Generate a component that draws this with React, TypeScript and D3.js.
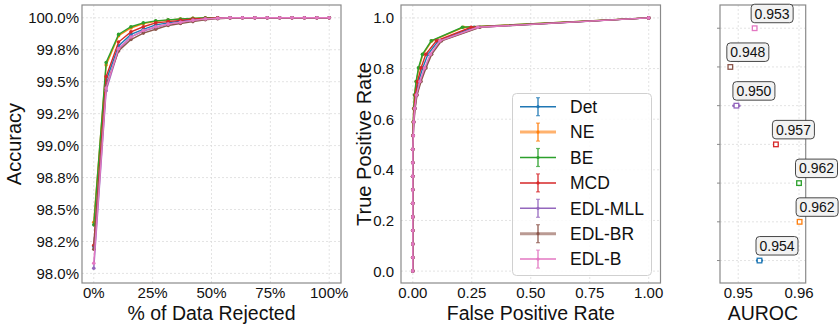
import React, { useEffect, useRef } from "react";
import * as d3 from "d3";

const methods = ["Det", "NE", "BE", "MCD", "EDL-MLL", "EDL-BR", "EDL-B"];
const colors = ["#1f77b4", "#ff7f0e", "#2ca02c", "#d62728", "#9467bd", "#8c564b", "#e377c2"];

// accuracy vs % of data rejected
const rejected = [0, 5.26, 10.53, 15.79, 21.05, 26.32, 31.58, 36.84, 42.11, 47.37, 52.63, 57.89, 63.16, 68.42, 73.68, 78.95, 84.21, 89.47, 94.74, 100];
const accDet = [98.21, 99.51, 99.78, 99.87, 99.91, 99.945, 99.96, 99.975, 99.985, 99.993, 99.997, 100, 100, 100, 100, 100, 100, 100, 100, 100];
const accNE = [98.4, 99.63, 99.86, 99.92, 99.955, 99.972, 99.982, 99.99, 99.995, 99.998, 100, 100, 100, 100, 100, 100, 100, 100, 100, 100];
const accBE = [98.38, 99.65, 99.87, 99.93, 99.96, 99.976, 99.984, 99.99, 99.995, 100, 100, 100, 100, 100, 100, 100, 100, 100, 100, 100];
const accMCD = [98.22, 99.54, 99.81, 99.89, 99.93, 99.96, 99.97, 99.98, 99.99, 99.995, 100, 100, 100, 100, 100, 100, 100, 100, 100, 100];
const accMLL = [98.04, 99.43, 99.75, 99.85, 99.895, 99.925, 99.95, 99.965, 99.98, 99.99, 99.995, 100, 100, 100, 100, 100, 100, 100, 100, 100];
const accBR = [98.19, 99.47, 99.74, 99.83, 99.88, 99.91, 99.94, 99.955, 99.97, 99.985, 99.993, 99.998, 100, 100, 100, 100, 100, 100, 100, 100];
const accB = [98.08, 99.45, 99.76, 99.85, 99.9, 99.93, 99.95, 99.965, 99.98, 99.99, 99.996, 100, 100, 100, 100, 100, 100, 100, 100, 100];
const accTicks = [98.0, 98.25, 98.5, 98.75, 99.0, 99.25, 99.5, 99.75, 100.0];
const accTickLabels = ["98.0%", "98.2%", "98.5%", "98.8%", "99.0%", "99.2%", "99.5%", "99.8%", "100.0%"];
const rejTicks = [0, 25, 50, 75, 100];
const rejTickLabels = ["0%", "25%", "50%", "75%", "100%"];

// ROC
const tpr = [0, 0.0535, 0.107, 0.1605, 0.214, 0.2675, 0.321, 0.3745, 0.428, 0.4815, 0.535, 0.5885, 0.642, 0.6955, 0.749, 0.8025, 0.856, 0.9095, 0.963, 1.0];
const fprDet = [0, 0, 0, 0, 0, 0, 0, 0, 0, 0, 0.001, 0.003, 0.007, 0.013, 0.024, 0.042, 0.064, 0.108, 0.26, 1];
const fprNE = [0, 0, 0, 0, 0, 0, 0, 0, 0, 0, 0.001, 0.002, 0.004, 0.008, 0.015, 0.026, 0.043, 0.081, 0.215, 1];
const fprBE = [0, 0, 0, 0, 0, 0, 0, 0, 0, 0, 0.001, 0.002, 0.004, 0.007, 0.014, 0.024, 0.041, 0.078, 0.21, 1];
const fprMCD = [0, 0, 0, 0, 0, 0, 0, 0, 0, 0, 0.001, 0.003, 0.006, 0.011, 0.02, 0.035, 0.055, 0.1, 0.247, 1];
const fprMLL = [0, 0, 0, 0, 0, 0, 0, 0, 0, 0, 0.002, 0.004, 0.009, 0.017, 0.032, 0.053, 0.077, 0.118, 0.28, 1];
const fprBR = [0, 0, 0, 0, 0, 0, 0, 0, 0, 0, 0.002, 0.005, 0.01, 0.018, 0.035, 0.056, 0.08, 0.122, 0.285, 1];
const fprB = [0, 0, 0, 0, 0, 0, 0, 0, 0, 0, 0.002, 0.004, 0.008, 0.015, 0.03, 0.05, 0.074, 0.115, 0.275, 1];
const rateTicksX = [0, 0.25, 0.5, 0.75, 1.0];
const rateTicksY = [0, 0.2, 0.4, 0.6, 0.8, 1.0];

// AUROC
const aurocMean = [0.9535, 0.9601, 0.96, 0.9562, 0.9497, 0.9487, 0.9527];
const aurocStd = [0.0004, 0.0001, 0.0001, 0.0002, 0.0005, 0.0002, 0.0001];
const aurocLabels = ["0.954", "0.962", "0.962", "0.957", "0.950", "0.948", "0.953"];
const aurocTicks = [0.95, 0.96];

const accSeries = [accDet, accNE, accBE, accMCD, accMLL, accBR, accB];
const fprSeries = [fprDet, fprNE, fprBE, fprMCD, fprMLL, fprBR, fprB];

const FONT = "'Liberation Sans', Arial, Helvetica, sans-serif";
const TOP = 5;
const BOTTOM = 283;

function frame(g, x, y, xTicks, xLabels, yTicks, yLabels, yLabelX) {
  const [x0, x1] = x.range();
  // grid
  g.selectAll(null)
    .data(xTicks)
    .enter()
    .append("line")
    .attr("x1", (d) => x(d))
    .attr("x2", (d) => x(d))
    .attr("y1", TOP)
    .attr("y2", BOTTOM)
    .attr("stroke", "#dcdcdc")
    .attr("stroke-width", 0.8)
    .attr("stroke-dasharray", "2,2");
  g.selectAll(null)
    .data(yTicks)
    .enter()
    .append("line")
    .attr("x1", x0)
    .attr("x2", x1)
    .attr("y1", (d) => y(d))
    .attr("y2", (d) => y(d))
    .attr("stroke", "#dcdcdc")
    .attr("stroke-width", 0.8)
    .attr("stroke-dasharray", "2,2");

  g.selectAll(null)
    .data(xTicks)
    .enter()
    .append("text")
    .attr("x", (d) => x(d))
    .attr("y", 297.5)
    .attr("text-anchor", "middle")
    .style("font-size", "15px")
    .text((d, i) => xLabels[i]);

  if (yLabels) {
    g.selectAll(null)
      .data(yTicks)
      .enter()
      .append("text")
      .attr("x", yLabelX)
      .attr("y", (d) => y(d))
      .attr("dy", "0.36em")
      .attr("text-anchor", "end")
      .style("font-size", "15px")
      .text((d, i) => yLabels[i]);
  }
}

function border(g, x) {
  const [x0, x1] = x.range();
  g.append("rect")
    .attr("x", x0)
    .attr("y", TOP)
    .attr("width", x1 - x0)
    .attr("height", BOTTOM - TOP)
    .attr("fill", "none")
    .attr("stroke", "#8a8a8a")
    .attr("stroke-width", 1.2);
}

function curves(g, xs, ys, x, y) {
  methods.forEach((m, i) => {
    const pts = xs[i].map((v, j) => [v, ys[i][j]]);
    const line = d3
      .line()
      .x((d) => x(d[0]))
      .y((d) => y(d[1]));
    g.append("path")
      .datum(pts)
      .attr("d", line)
      .attr("fill", "none")
      .attr("stroke", colors[i])
      .attr("stroke-width", 1.4);
    g.selectAll(null)
      .data(pts)
      .enter()
      .append("circle")
      .attr("cx", (d) => x(d[0]))
      .attr("cy", (d) => y(d[1]))
      .attr("r", 1.8)
      .attr("fill", colors[i]);
  });
}

function title(g, text, cx, cy, rotate) {
  const t = g
    .append("text")
    .attr("text-anchor", "middle")
    .style("font-size", rotate ? "20px" : "19.5px")
    .text(text);
  if (rotate) {
    t.attr("transform", `translate(${cx},${cy}) rotate(-90)`);
  } else {
    t.attr("x", cx).attr("y", cy);
  }
}

const App = () => {
  const ref = useRef(null);

  useEffect(() => {
    const svg = d3.select(ref.current);
    svg.selectAll("*").remove();
    const root = svg.append("g").style("font-family", FONT).attr("fill", "#111");

    // ---- accuracy panel
    const xA = d3.scaleLinear().domain([-5, 105]).range([82, 341]);
    const yA = d3.scaleLinear().domain([97.925, 100.1]).range([BOTTOM, TOP]);
    const gA = root.append("g");
    frame(gA, xA, yA, rejTicks, rejTickLabels, accTicks, accTickLabels, 79);
    curves(gA, methods.map(() => rejected), accSeries, xA, yA);
    border(gA, xA);
    title(gA, "% of Data Rejected", (82 + 341) / 2, 319.5, false);
    title(gA, "Accuracy", 21, 144, true);

    // ---- ROC panel
    const xR = d3.scaleLinear().domain([-0.05, 1.05]).range([401, 660.5]);
    const yR = d3.scaleLinear().domain([-0.047, 1.051]).range([BOTTOM, TOP]);
    const gR = root.append("g");
    frame(
      gR,
      xR,
      yR,
      rateTicksX,
      rateTicksX.map((d) => d3.format(".2f")(d)),
      rateTicksY,
      rateTicksY.map((d) => d3.format(".1f")(d)),
      394
    );
    curves(gR, fprSeries, methods.map(() => tpr), xR, yR);
    border(gR, xR);
    title(gR, "False Positive Rate", (401 + 660.5) / 2, 319.5, false);
    title(gR, "True Positive Rate", 371, 144, true);

    // legend
    const lg = gR.append("g");
    lg.append("rect")
      .attr("x", 512.5)
      .attr("y", 93.5)
      .attr("width", 139)
      .attr("height", 182)
      .attr("rx", 4)
      .attr("fill", "white")
      .attr("fill-opacity", 0.85)
      .attr("stroke", "#d0d0d0");
    methods.forEach((m, i) => {
      const cy = 106.7 + i * 25.4;
      const thick = m === "NE" || m === "EDL-BR";
      lg.append("line")
        .attr("x1", 520)
        .attr("x2", 556)
        .attr("y1", cy)
        .attr("y2", cy)
        .attr("stroke", colors[i])
        .attr("stroke-opacity", thick ? 0.6 : 1)
        .attr("stroke-width", thick ? 3 : 1.5);
      lg.append("line")
        .attr("x1", 538)
        .attr("x2", 538)
        .attr("y1", cy - 9)
        .attr("y2", cy + 9)
        .attr("stroke", colors[i])
        .attr("stroke-opacity", 0.7)
        .attr("stroke-width", 1.8);
      [cy - 9, cy + 9].forEach((yy) =>
        lg.append("line")
          .attr("x1", 536)
          .attr("x2", 540)
          .attr("y1", yy)
          .attr("y2", yy)
          .attr("stroke", colors[i])
          .attr("stroke-opacity", 0.7)
          .attr("stroke-width", 1.2)
      );
      lg.append("circle").attr("cx", 538).attr("cy", cy).attr("r", 1.6).attr("fill", colors[i]);
      lg.append("text")
        .attr("x", 570)
        .attr("y", cy)
        .attr("dy", "0.36em")
        .style("font-size", "17.5px")
        .text(m);
    });

    // ---- AUROC panel
    const xU = d3.scaleLinear().domain([0.947, 0.9611]).range([720, 805.7]);
    const yU = d3.scaleLinear().domain([-0.58, 6.6]).range([BOTTOM, TOP]);
    const rows = methods.map((m, i) => i);
    const gU = root.append("g");
    frame(gU, xU, yU, aurocTicks, aurocTicks.map((d) => d3.format(".2f")(d)), rows, null, 0);
    gU.selectAll(null)
      .data(rows)
      .enter()
      .append("line")
      .attr("x1", 717)
      .attr("x2", 720)
      .attr("y1", (d) => yU(d))
      .attr("y2", (d) => yU(d))
      .attr("stroke", "#8a8a8a");
    border(gU, xU);
    title(gU, "AUROC", (720 + 805.7) / 2, 319.5, false);

    methods.forEach((m, i) => {
      const cx = xU(aurocMean[i]);
      const cy = yU(i);
      gU.append("line")
        .attr("x1", xU(aurocMean[i] - aurocStd[i]))
        .attr("x2", xU(aurocMean[i] + aurocStd[i]))
        .attr("y1", cy)
        .attr("y2", cy)
        .attr("stroke", colors[i])
        .attr("stroke-width", 2.5)
        .attr("stroke-linecap", "round");
      gU.append("rect")
        .attr("x", cx - 2.3)
        .attr("y", cy - 2.3)
        .attr("width", 4.6)
        .attr("height", 4.6)
        .attr("fill", "white")
        .attr("stroke", colors[i])
        .attr("stroke-width", 1.3);
      gU.append("rect")
        .attr("x", cx - 3.5)
        .attr("y", cy - 24)
        .attr("width", 42)
        .attr("height", 18.5)
        .attr("rx", 3.5)
        .attr("fill", "#f2f2f2")
        .attr("stroke", "#333")
        .attr("stroke-width", 0.9);
      gU.append("text")
        .attr("x", cx + 17.5)
        .attr("y", cy - 9.7)
        .attr("text-anchor", "middle")
        .style("font-size", "14px")
        .text(aurocLabels[i]);
    });

    return () => {
      d3.select(ref.current).selectAll("*").remove();
    };
  }, []);

  return (
    <svg
      ref={ref}
      width={839}
      height={328}
      style={{ position: "absolute", left: 0, top: 0, background: "white" }}
    ></svg>
  );
};

export default App;
